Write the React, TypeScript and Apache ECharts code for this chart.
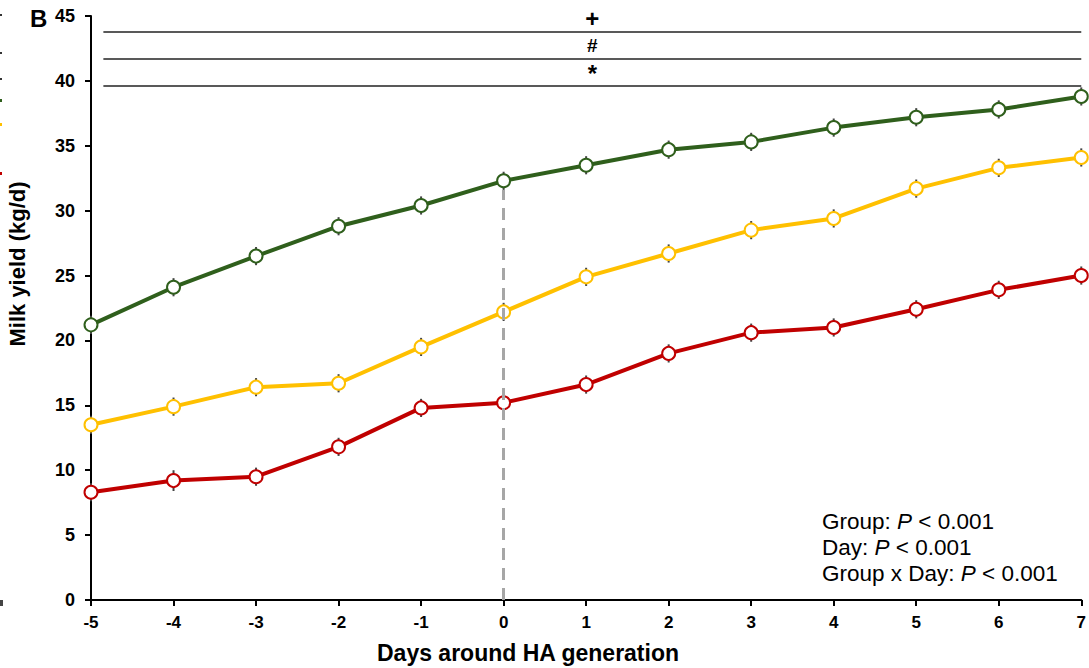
import React, { useEffect, useRef } from "react";
import * as echarts from "echarts";

const days = [-5, -4, -3, -2, -1, 0, 1, 2, 3, 4, 5, 6, 7];
const greenValues = [21.2, 24.1, 26.5, 28.8, 30.4, 32.3, 33.5, 34.7, 35.3, 36.4, 37.2, 37.8, 38.8];
const yellowValues = [13.5, 14.9, 16.4, 16.7, 19.5, 22.2, 24.9, 26.7, 28.5, 29.4, 31.7, 33.3, 34.1];
const redValues = [8.3, 9.2, 9.5, 11.8, 14.8, 15.2, 16.6, 19.0, 20.6, 21.0, 22.4, 23.9, 25.0];
const greenErr = [0.7, 0.7, 0.7, 0.7, 0.7, 0.7, 0.7, 0.7, 0.7, 0.7, 0.7, 0.7, 0.7];
const yellowErr = [0.7, 0.7, 0.7, 0.7, 0.7, 0.7, 0.7, 0.7, 0.7, 0.7, 0.7, 0.7, 0.7];
const redErr = [0.7, 0.8, 0.7, 0.7, 0.7, 0.7, 0.7, 0.7, 0.7, 0.7, 0.7, 0.7, 0.7];
const sigLevels = [43.8, 41.7, 39.6];
const sigSymbols = ["+", "#", "*"];
const yTicks = [0, 5, 10, 15, 20, 25, 30, 35, 40, 45];

const FONT = "'Liberation Sans', Arial, sans-serif";

export default function App() {
  const ref = useRef<HTMLDivElement>(null);
  useEffect(() => {
    if (!ref.current) return;
    const chart = echarts.init(ref.current, null, { renderer: "svg" });
    const groups = [
      { name: "Green", values: greenValues, err: greenErr, color: "#2f5f1c" },
      { name: "Yellow", values: yellowValues, err: yellowErr, color: "#ffc000" },
      { name: "Red", values: redValues, err: redErr, color: "#c00000" },
    ];
    const errSeries = groups.map((g) => ({
      type: "custom",
      name: g.name + " SE",
      z: 1,
      data: days.map((d, i) => [d, g.values[i], g.err[i]]),
      renderItem: (params: any, api: any) => {
        const x = api.value(0);
        const y = api.value(1);
        const e = api.value(2);
        const p1 = api.coord([x, y + e]);
        const p2 = api.coord([x, y - e]);
        return {
          type: "line",
          shape: { x1: p1[0], y1: p1[1], x2: p2[0], y2: p2[1] },
          style: { stroke: "#444", lineWidth: 2 },
        };
      },
    }));
    const lineSeries = groups.map((g) => ({
      type: "line",
      name: g.name,
      z: 3,
      data: days.map((d, i) => [d, g.values[i]]),
      symbol: "circle",
      symbolSize: 13,
      lineStyle: { color: g.color, width: 4 },
      itemStyle: { color: "#ffffff", borderColor: g.color, borderWidth: 2 },
    }));
    const option: any = {
      animation: false,
      grid: { left: 91, right: 4, top: 16, bottom: 68 },
      xAxis: {
        type: "value",
        min: -5,
        max: 7,
        interval: 1,
        splitLine: { show: false },
        axisLine: { onZero: false, lineStyle: { color: "#000", width: 2 } },
        axisTick: { show: true, length: 6, lineStyle: { color: "#000", width: 2 } },
        axisLabel: { color: "#000", fontFamily: FONT, fontWeight: "bold", fontSize: 17, margin: 14 },
      },
      yAxis: {
        type: "value",
        min: 0,
        max: 45,
        interval: 5,
        splitLine: { show: false },
        axisLine: { show: true, onZero: false, lineStyle: { color: "#000", width: 2 } },
        axisTick: { show: true, length: 6, lineStyle: { color: "#000", width: 2 } },
        axisLabel: {
          color: "#000",
          fontFamily: FONT,
          fontWeight: "bold",
          fontSize: 18,
          margin: 16,
          formatter: (v: number) => (yTicks.includes(v) ? String(v) : ""),
        },
      },
      series: [
        ...errSeries,
        ...lineSeries,
        {
          type: "line",
          name: "annotations",
          data: [],
          z: 2,
          markLine: {
            silent: true,
            symbol: "none",
            data: [
              [
                { coord: [0, 0], lineStyle: { color: "#a6a6a6", width: 3, type: [12, 8] }, label: { show: false } },
                { coord: [0, 31.6] },
              ],
              ...sigLevels.map((lv, i) => [
                {
                  coord: [-4.85, lv],
                  lineStyle: { color: "#222", width: 1.5, type: "solid" },
                  label: {
                    show: true,
                    position: "middle",
                    formatter: sigSymbols[i],
                    color: "#000",
                    fontFamily: FONT,
                    fontWeight: "bold",
                    fontSize: i === 1 ? 19 : 24,
                    distance: i === 1 ? 4 : 1,
                  },
                },
                { coord: [7, lv] },
              ]),
            ],
          },
        },
      ],
      graphic: [
        {
          type: "text",
          left: 30,
          top: 6,
          style: { text: "B", fontFamily: FONT, fontWeight: "bold", fontSize: 24, fill: "#000" },
        },
        {
          type: "text",
          x: 17,
          y: 264,
          rotation: Math.PI / 2,
          style: {
            text: "Milk yield (kg/d)",
            fontFamily: FONT,
            fontWeight: "bold",
            fontSize: 22,
            fill: "#000",
            align: "center",
            verticalAlign: "middle",
          },
        },
        {
          type: "text",
          x: 528,
          y: 653,
          style: {
            text: "Days around HA generation",
            fontFamily: FONT,
            fontWeight: "bold",
            fontSize: 23,
            fill: "#000",
            align: "center",
            verticalAlign: "middle",
          },
        },
        {
          type: "text",
          x: 822,
          y: 508,
          style: {
            text: "{n|Group: }{i|P}{n| < 0.001}\n{n|Day: }{i|P}{n| < 0.001}\n{n|Group x Day: }{i|P}{n| < 0.001}",
            lineHeight: 26,
            rich: {
              n: { fontFamily: FONT, fontSize: 22.5, fill: "#000", lineHeight: 26 },
              i: { fontFamily: FONT, fontSize: 22.5, fontStyle: "italic", fill: "#000", lineHeight: 26 },
            },
          },
        },
        { type: "rect", shape: { x: 0, y: 14, width: 2, height: 2 }, style: { fill: "#333" } },
        { type: "rect", shape: { x: 0, y: 52, width: 2, height: 2 }, style: { fill: "#333" } },
        { type: "rect", shape: { x: 0, y: 78, width: 2, height: 2 }, style: { fill: "#333" } },
        { type: "rect", shape: { x: 0, y: 99, width: 2, height: 3 }, style: { fill: "#2f5f1c" } },
        { type: "rect", shape: { x: 0, y: 123, width: 2, height: 3 }, style: { fill: "#ffc000" } },
        { type: "rect", shape: { x: 0, y: 172, width: 2, height: 3 }, style: { fill: "#c00000" } },
        { type: "rect", shape: { x: 0, y: 600, width: 3, height: 6 }, style: { fill: "#444" } },
      ],
    };
    chart.setOption(option);
    return () => chart.dispose();
  }, []);
  return <div ref={ref} style={{ width: 1089, height: 668, position: "absolute", left: 0, top: 0, background: "#fff" }} />;
}
